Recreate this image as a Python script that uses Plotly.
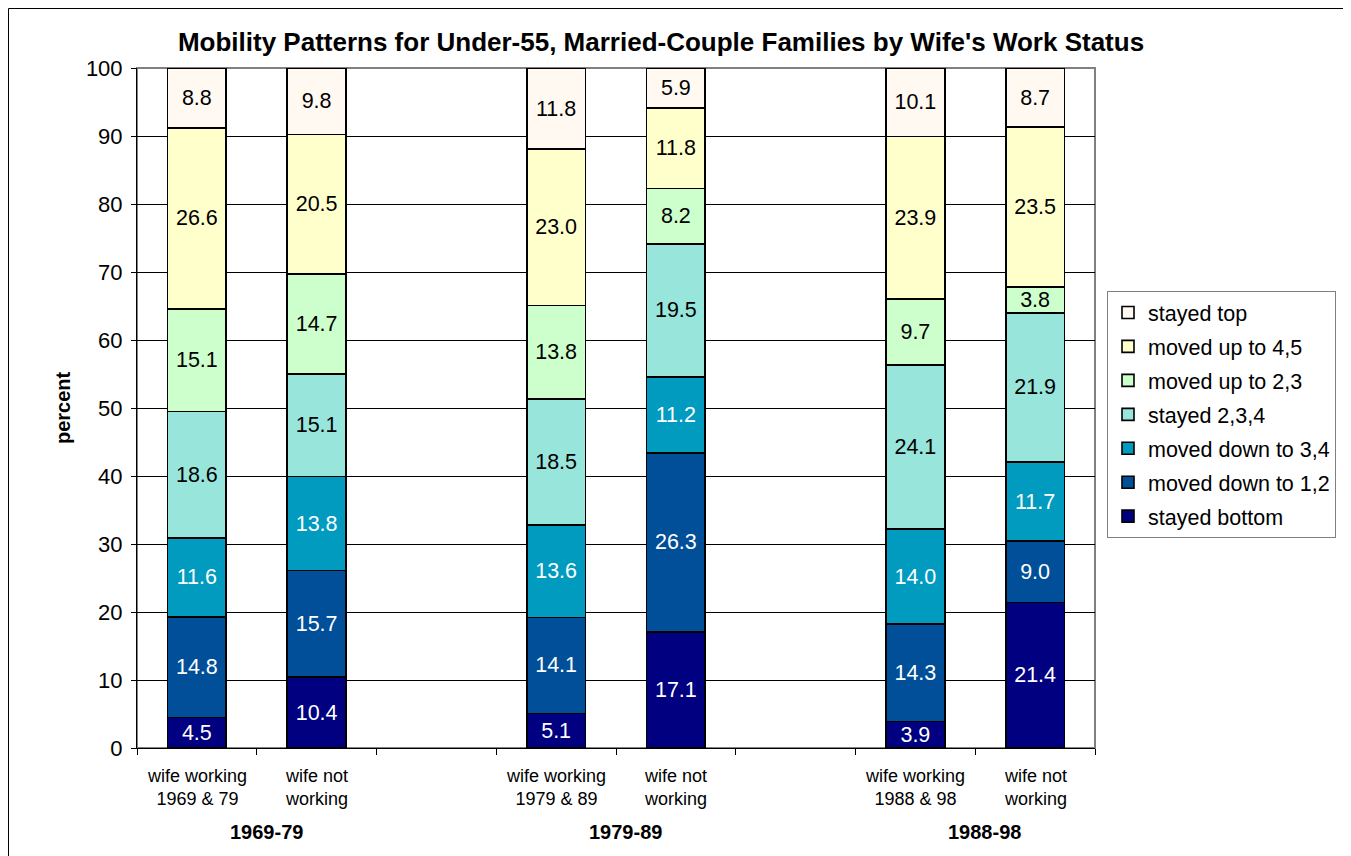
import plotly.graph_objects as go

# ---- data ----
bar_positions = [0, 1, 3, 4, 6, 7]
bar_labels = ["wife working<br>1969 & 79", "wife not<br>working",
              "wife working<br>1979 & 89", "wife not<br>working",
              "wife working<br>1988 & 98", "wife not<br>working"]
group_labels = ["1969-79", "1979-89", "1988-98"]
group_positions = [0.5, 3.5, 6.5]

series_names = ["stayed bottom", "moved down to 1,2", "moved down to 3,4",
                "stayed 2,3,4", "moved up to 2,3", "moved up to 4,5", "stayed top"]
stayed_bottom = [4.5, 10.4, 5.1, 17.1, 3.9, 21.4]
moved_down_12 = [14.8, 15.7, 14.1, 26.3, 14.3, 9.0]
moved_down_34 = [11.6, 13.8, 13.6, 11.2, 14.0, 11.7]
stayed_234 = [18.6, 15.1, 18.5, 19.5, 24.1, 21.9]
moved_up_23 = [15.1, 14.7, 13.8, 8.2, 9.7, 3.8]
moved_up_45 = [26.6, 20.5, 23.0, 11.8, 23.9, 23.5]
stayed_top = [8.8, 9.8, 11.8, 5.9, 10.1, 8.7]
series_values = [stayed_bottom, moved_down_12, moved_down_34, stayed_234,
                 moved_up_23, moved_up_45, stayed_top]
y_ticks = list(range(0, 101, 10))

# ---- styles ----
colors = ["#000080", "#004F98", "#009BBF", "#98E5DC", "#CCFFCC", "#FFFFCC", "#FFF9F2"]
text_colors = ["white", "white", "white", "black", "black", "black", "black"]
FONT = "Liberation Sans, Arial, sans-serif"

fig = go.Figure()
n = len(series_names)
for i, (name, vals, col, tc) in enumerate(zip(series_names, series_values, colors, text_colors)):
    fig.add_trace(go.Bar(
        x=bar_positions, y=vals, name=name, legendgroup=name,
        legendrank=100 + (n - i),
        width=0.49,
        marker=dict(color=col, line=dict(color="black", width=1.6)),
        texttemplate="%{y:.1f}", textposition="inside", insidetextanchor="middle",
        textangle=0, constraintext="none",
        textfont=dict(family=FONT, size=21.5, color=tc),
        hoverinfo="skip",
    ))

# tick marks at slot boundaries on an overlaid axis
fig.add_trace(go.Scatter(x=[-0.5, 7.5], y=[0, 0], xaxis="x2", mode="none",
                         showlegend=False, hoverinfo="skip"))

OFF = 8  # page body margin
W, H = 1351 - OFF, 856 - OFF
L, R, T, B = 137 - OFF, 256, 68 - OFF, 108
pw, ph = W - L - R, H - T - B

def xp(px):  # page px -> paper
    return (px - OFF - L) / pw

def yp(py):
    return (H - B - (py - OFF)) / ph

annotations = []
for pos, lab in zip(bar_positions, bar_labels):
    annotations.append(dict(x=pos, xref="x", y=0, yref="paper", text=lab,
                            showarrow=False, yanchor="top", yshift=-16,
                            font=dict(family=FONT, size=18, color="black")))
for pos, lab in zip(group_positions, group_labels):
    annotations.append(dict(x=pos + 0.08, xref="x", y=0, yref="paper", text="<b>" + lab + "</b>",
                            showarrow=False, yanchor="middle", yshift=-84,
                            font=dict(family=FONT, size=20, color="black")))
annotations.append(dict(x=xp(63), xref="paper", y=0.5, yref="paper", text="<b>percent</b>",
                        textangle=-90, showarrow=False, xanchor="center", yanchor="middle",
                        font=dict(family=FONT, size=20, color="black")))

bx, by = xp(8.5), yp(8.5)
border_path = f"M {bx},{yp(900)} L {bx},{by} L {xp(1400)},{by}"

fig.update_layout(
    width=W, height=H,
    margin=dict(l=L, r=R, t=T, b=B, pad=0),
    paper_bgcolor="white", plot_bgcolor="white",
    barmode="stack",
    font=dict(family=FONT, size=20, color="black"),
    title=dict(text="<b>Mobility Patterns for Under-55, Married-Couple Families by Wife's Work Status</b>",
               x=(661 - OFF) / W, xref="container", xanchor="center",
               y=1 - (42 - OFF) / H, yref="container", yanchor="middle",
               font=dict(family=FONT, size=26, color="black")),
    xaxis=dict(range=[-0.5, 7.5], showticklabels=False, ticks="", showgrid=False,
               showline=True, linecolor="black", linewidth=1, zeroline=False, fixedrange=True),
    xaxis2=dict(range=[-0.5, 7.5], overlaying="x", side="bottom", anchor="y",
                tickvals=[i - 0.5 for i in range(9)], ticktext=[""] * 9,
                ticks="outside", ticklen=6, tickcolor="black", tickwidth=1,
                showgrid=False, showline=False, zeroline=False),
    yaxis=dict(range=[0, 100], tickvals=y_ticks, ticks="outside", ticklen=5,
               tickcolor="black", showline=True, linecolor="black", linewidth=1,
               showgrid=True, gridcolor="black", gridwidth=1, zeroline=False,
               ticklabelstandoff=4,
               tickfont=dict(family=FONT, size=22, color="black")),
    legend=dict(x=xp(1107), y=yp(291), xanchor="left", yanchor="top",
                bgcolor="white", bordercolor="#808080", borderwidth=1,
                traceorder="grouped", tracegroupgap=3, itemwidth=30,
                font=dict(family=FONT, size=21.5, color="black")),
    annotations=annotations,
    shapes=[
        dict(type="rect", xref="paper", yref="paper", x0=0, x1=1, y0=0, y1=1,
             line=dict(color="#808080", width=2), layer="below"),
        dict(type="path", xref="paper", yref="paper", path=border_path,
             line=dict(color="black", width=1), layer="below"),
    ],
    showlegend=True,
)

fig.write_html("out.html")
